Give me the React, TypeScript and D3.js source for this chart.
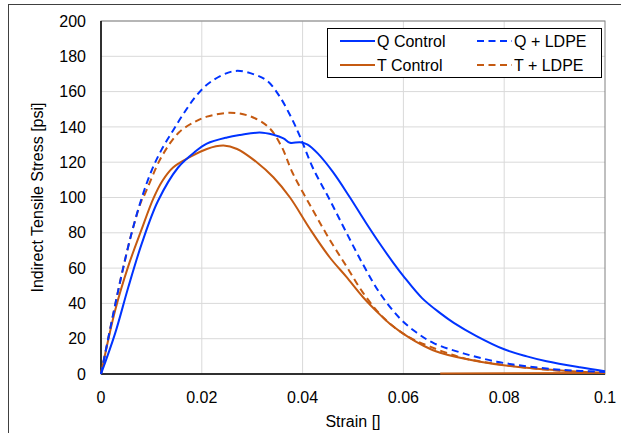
import React from "react";
import * as d3 from "d3";

// Stress–strain curves from indirect tensile tests
type Pt = [number, number];

const qControl: Pt[] = [
  [0, 0], [0.0028, 23], [0.0054, 49], [0.0081, 74], [0.0113, 98], [0.0153, 117],
  [0.0187, 126], [0.021, 130.5], [0.025, 134], [0.0276, 135.4], [0.0315, 136.8],
  [0.0342, 135.5], [0.0362, 133.5], [0.0375, 131], [0.0395, 131.3], [0.041, 130],
  [0.043, 125], [0.046, 114.5], [0.0494, 100], [0.0525, 86], [0.0554, 73.5], [0.058, 63],
  [0.06, 55.5], [0.0637, 43], [0.0673, 34.5], [0.07, 29], [0.0745, 21.5], [0.08, 14],
  [0.0845, 10], [0.0884, 7.2], [0.095, 3.8], [0.1, 1.6],
];

const tControl: Pt[] = [
  [0, 0], [0.0028, 36], [0.0054, 61], [0.008, 81.5], [0.0104, 99.5], [0.0122, 109.5],
  [0.0143, 117], [0.0177, 123], [0.021, 127.5], [0.0243, 129.4], [0.027, 127.5],
  [0.0309, 120], [0.0342, 111.5], [0.0375, 100], [0.0415, 82], [0.0454, 66],
  [0.0487, 55], [0.052, 43.5], [0.0554, 33.5], [0.0573, 28.5], [0.0607, 21.5], [0.064, 16],
  [0.0673, 12], [0.0752, 7], [0.085, 3.4], [0.095, 1.3], [0.1, 0.7],
];

// unloading tail of the T control record along the strain axis
const tControlTail: Pt[] = [[0.0673, 0.3], [0.1, 0.5]];

const qLdpe: Pt[] = [
  [0, 0], [0.002, 28], [0.004, 55], [0.006, 79], [0.008, 99], [0.01, 115], [0.012, 127],
  [0.0143, 138], [0.0165, 148], [0.019, 158], [0.022, 166], [0.0266, 171.7],
  [0.0306, 169.5], [0.033, 166], [0.0355, 157], [0.0378, 145], [0.0395, 134.5],
  [0.042, 117], [0.0454, 98.6], [0.0487, 80], [0.052, 62], [0.0554, 45.5], [0.0593, 31.5],
  [0.0626, 23.5], [0.066, 17.5], [0.0719, 11.7], [0.0785, 7], [0.085, 4.2], [0.0917, 2.3],
  [0.1, 1.2],
];

const tLdpe: Pt[] = [
  [0, 0], [0.002, 28], [0.004, 55], [0.006, 79], [0.008, 98], [0.0087, 102], [0.012, 123],
  [0.0155, 137], [0.0187, 143], [0.021, 145.8], [0.0256, 148], [0.0296, 146],
  [0.0332, 140], [0.0358, 129], [0.038, 114], [0.042, 93], [0.0454, 76], [0.0487, 61],
  [0.052, 46], [0.056, 32], [0.0607, 21.5], [0.0653, 15.5], [0.0719, 9], [0.0785, 5.7],
  [0.085, 3.4], [0.0917, 1.8], [0.1, 1],
];

const xTicks = [0, 0.02, 0.04, 0.06, 0.08, 0.1];
const xTickLabels = ["0", "0.02", "0.04", "0.06", "0.08", "0.1"];
const yTicks = [0, 20, 40, 60, 80, 100, 120, 140, 160, 180, 200];

const BLUE = "#0033ff";
const ORANGE = "#c55a11";
const FONT = "'Liberation Sans', Arial, sans-serif";

const W = 621;
const H = 433;
const plot = { left: 101, right: 605, top: 21, bottom: 374 };

export default function App() {
  const x = d3.scaleLinear().domain([0, 0.1]).range([plot.left, plot.right]);
  const y = d3.scaleLinear().domain([0, 200]).range([plot.bottom, plot.top]);
  const line = d3
    .line<Pt>()
    .x((d) => x(d[0]))
    .y((d) => y(d[1]))
    .curve(d3.curveCatmullRom.alpha(0.5));

  const series = [
    { name: "T + LDPE", data: tLdpe, color: ORANGE, dash: "7 4.5" },
    { name: "T Control", data: tControl, color: ORANGE, dash: undefined },
    { name: "T Control tail", data: tControlTail, color: ORANGE, dash: undefined },
    { name: "Q + LDPE", data: qLdpe, color: BLUE, dash: "7 4.5" },
    { name: "Q Control", data: qControl, color: BLUE, dash: undefined },
  ];

  const legend = [
    { label: "Q Control", color: BLUE, dash: undefined, col: 0, row: 0 },
    { label: "Q + LDPE", color: BLUE, dash: "7 4.5", col: 1, row: 0 },
    { label: "T Control", color: ORANGE, dash: undefined, col: 0, row: 1 },
    { label: "T + LDPE", color: ORANGE, dash: "7 4.5", col: 1, row: 1 },
  ];
  const legBox = { x: 327, y: 28, w: 274, h: 49 };
  const colX = [340, 477];
  const rowY = [41, 65];

  return (
    <svg
      width={W}
      height={H}
      style={{ position: "absolute", left: 0, top: 0, background: "#fff" }}
      fontFamily={FONT}
    >
      {/* chart frame */}
      <rect x={8.5} y={4.5} width={W + 20} height={H + 20} fill="#fff" stroke="#404040" strokeWidth={1} />

      {/* gridlines */}
      {yTicks.filter((t) => t > 0).map((t) => (
        <line key={"gy" + t} x1={plot.left} x2={plot.right} y1={y(t)} y2={y(t)} stroke="#d9d9d9" strokeWidth={1} />
      ))}
      {xTicks.filter((t) => t > 0 && t < 0.1).map((t) => (
        <line key={"gx" + t} x1={x(t)} x2={x(t)} y1={plot.top} y2={plot.bottom} stroke="#d9d9d9" strokeWidth={1} />
      ))}

      {/* plot area border */}
      <rect
        x={plot.left}
        y={plot.top}
        width={plot.right - plot.left}
        height={plot.bottom - plot.top}
        fill="none"
        stroke="#808080"
        strokeWidth={1}
      />

      {/* axis lines */}
      <line x1={plot.left} x2={plot.right} y1={plot.bottom} y2={plot.bottom} stroke="#000" strokeWidth={1.5} />
      <line x1={plot.left} x2={plot.left} y1={plot.top} y2={plot.bottom} stroke="#000" strokeWidth={1.5} />

      {/* curves */}
      {series.map((s) => (
        <path
          key={s.name}
          d={line(s.data) ?? ""}
          fill="none"
          stroke={s.color}
          strokeWidth={2}
          strokeDasharray={s.dash}
        />
      ))}

      {/* tick labels */}
      {yTicks.map((t) => (
        <text key={"ty" + t} x={86} y={y(t)} dy="0.35em" textAnchor="end" fontSize={16} fill="#000">
          {t}
        </text>
      ))}
      {xTicks.map((t, i) => (
        <text key={"tx" + t} x={x(t)} y={397} dy="0.35em" textAnchor="middle" fontSize={16} fill="#000">
          {xTickLabels[i]}
        </text>
      ))}

      {/* axis titles */}
      <text x={(plot.left + plot.right) / 2} y={421} dy="0.35em" textAnchor="middle" fontSize={16} fill="#000">
        Strain []
      </text>
      <text
        transform={`translate(37, ${(plot.top + plot.bottom) / 2}) rotate(-90)`}
        dy="0.35em"
        textAnchor="middle"
        fontSize={16}
        fill="#000"
      >
        Indirect Tensile Stress [psi]
      </text>

      {/* legend */}
      <rect x={legBox.x + 0.5} y={legBox.y + 0.5} width={legBox.w} height={legBox.h} fill="#fff" stroke="#000" strokeWidth={1} />
      {legend.map((l) => (
        <g key={l.label}>
          <line
            x1={colX[l.col]}
            x2={colX[l.col] + 35}
            y1={rowY[l.row]}
            y2={rowY[l.row]}
            stroke={l.color}
            strokeWidth={2}
            strokeDasharray={l.dash}
          />
          <text x={colX[l.col] + 37} y={rowY[l.row]} dy="0.35em" fontSize={16} fill="#000">
            {l.label}
          </text>
        </g>
      ))}
    </svg>
  );
}
